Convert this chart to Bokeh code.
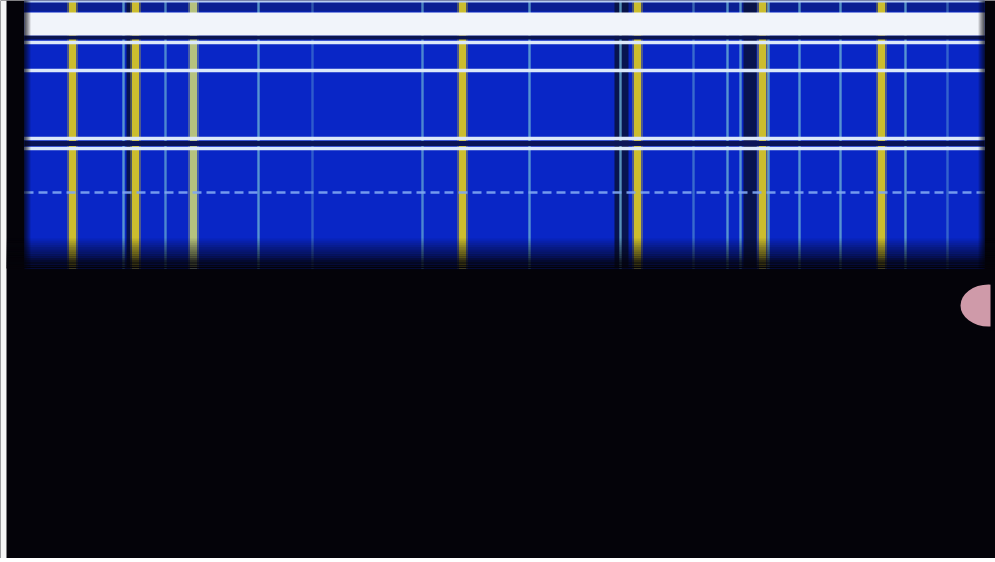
from bokeh.plotting import figure
from bokeh.models import Range1d
from bokeh.embed import file_html
from bokeh.resources import INLINE

# ---- values (screen-pixel coordinates) ----
yellow_x = [72, 135, 193, 462, 637, 762, 881]
yellow_pale = [False, False, True, False, False, False, False]
cyan_x = [123, 165, 258, 312, 422, 529, 620, 693, 727, 740, 768, 799, 840, 905, 947]
cyan_alpha = [0.8, 0.7, 0.8, 0.4, 0.7, 0.8, 0.8, 0.5, 0.8, 0.8, 0.8, 0.8, 0.8, 0.8, 0.45]
dark_left = [126, 614, 743]
dark_right = [131, 628, 756]
hline_y = [42, 70, 138, 148]
dashed_y = [192]
band_top = [12]
band_bottom = [35]

W, H = 995, 558
X0, X1 = 0, 995
BG = "#040309"
p = figure(width=W, height=H, output_backend="svg", toolbar_location=None,
           x_range=Range1d(X0, X1), y_range=Range1d(H, 0), min_border=0)
p.axis.visible = False
p.grid.visible = False
p.outline_line_color = None
p.background_fill_color = BG
p.border_fill_color = BG

BLUE_L, BLUE_R, BLUE_B = 24, 984, 268

# light page strip on the left
p.quad(left=[0], right=[6], top=[0], bottom=[H], fill_color="#f6f6f6", line_color=None)

# blue field
p.quad(left=[BLUE_L], right=[BLUE_R], top=[0], bottom=[BLUE_B], fill_color="#0926c6", line_color=None)
# top dark strip
p.quad(left=[BLUE_L], right=[BLUE_R], top=[2], bottom=[11], fill_color="#0a1e92", line_color=None)

# dark vertical bands
p.quad(left=dark_left, right=dark_right, top=[0]*len(dark_left), bottom=[BLUE_B]*len(dark_left),
       fill_color="#08123a", line_color=None, fill_alpha=0.85)

# cyan thin lines
for x, a in zip(cyan_x, cyan_alpha):
    p.segment(x0=[x], y0=[0], x1=[x], y1=[BLUE_B], line_color="#6ab0d4", line_width=2.4, line_alpha=a)

# yellow lines
for x, pale in zip(yellow_x, yellow_pale):
    col = "#b6c27e" if pale else "#cbbd2e"
    p.segment(x0=[x], y0=[0], x1=[x], y1=[BLUE_B], line_color=col, line_width=11, line_alpha=0.35)
    p.segment(x0=[x], y0=[0], x1=[x], y1=[BLUE_B], line_color=col, line_width=7)

# top light line
p.quad(left=[BLUE_L], right=[BLUE_R], top=[0], bottom=[2], fill_color="#b8cdf0", line_color=None)
# white band with a dark rim under it
p.quad(left=[BLUE_L], right=[BLUE_R], top=[band_bottom[0]], bottom=[band_bottom[0] + 4],
       fill_color="#0c1650", line_color=None)
p.quad(left=[BLUE_L], right=[BLUE_R], top=band_top, bottom=band_bottom, fill_color="#f1f4fa", line_color=None)
# dark gap between the paired lines
p.quad(left=[BLUE_L], right=[BLUE_R], top=[140.5], bottom=[145.5], fill_color="#0a1458", line_color=None)
# horizontal light lines
for y in hline_y:
    p.segment(x0=[BLUE_L], y0=[y], x1=[BLUE_R], y1=[y], line_color="#dbe8fa", line_width=3.5)
for y in dashed_y:
    p.segment(x0=[BLUE_L], y0=[y], x1=[BLUE_R], y1=[y], line_color="#7fa6f2", line_width=2.5,
              line_dash="9 5", line_alpha=0.9)

# fade to black at the bottom of the field
steps = 14
fade_top, fade_bot = 238, BLUE_B
for i in range(steps):
    t0 = fade_top + (fade_bot - fade_top) * i / steps
    t1 = fade_top + (fade_bot - fade_top) * (i + 1) / steps
    p.quad(left=[6], right=[X1], top=[t0], bottom=[t1], fill_color=BG,
           fill_alpha=(i + 1) / steps, line_color=None)
# soft left / right edges
for i in range(6):
    p.quad(left=[BLUE_L + i], right=[BLUE_L + i + 1], top=[0], bottom=[BLUE_B],
           fill_color=BG, fill_alpha=0.8 - i * 0.13, line_color=None)
    p.quad(left=[BLUE_R - i - 1], right=[BLUE_R - i], top=[0], bottom=[BLUE_B],
           fill_color=BG, fill_alpha=0.8 - i * 0.13, line_color=None)

# pink blob at the right
p.ellipse(x=[988], y=[305], width=56, height=42, fill_color="#cf9aa9", line_color=None)
p.quad(left=[990], right=[X1], top=[280], bottom=[330], fill_color=BG, line_color=None)

open("out.html", "w").write(file_html(p, INLINE))
